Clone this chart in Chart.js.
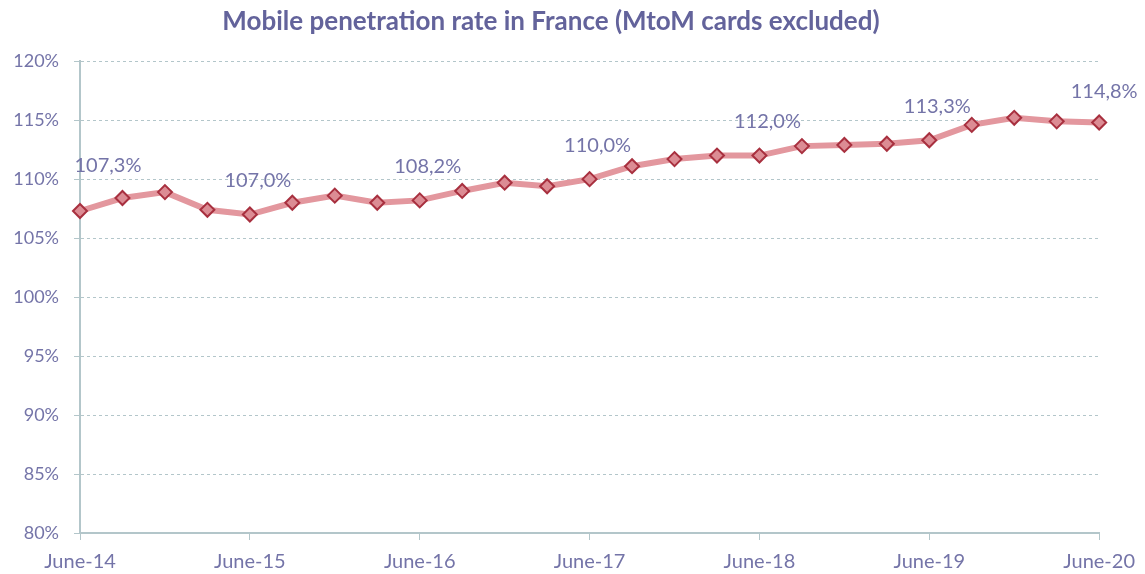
<!DOCTYPE html>
<html>
  <head>
    <meta charset="utf-8">
    <title>Mobile penetration rate in France</title>
    <script src="https://cdn.jsdelivr.net/npm/chart.js"></script>
    <style>
      html, body { margin: 0; padding: 0; background: #ffffff; }
      .chart-container { width: 1145px; height: 574px; position: relative; }
    </style>
  </head>
  <body>
    <div class="chart-container">
      <canvas id="myChart"></canvas>
    </div>
    <script>
      // Quarterly categories, only the June ones get a visible tick label
      const quarters = [
        'June-14', 'Sept-14', 'Dec-14', 'Mar-15',
        'June-15', 'Sept-15', 'Dec-15', 'Mar-16',
        'June-16', 'Sept-16', 'Dec-16', 'Mar-17',
        'June-17', 'Sept-17', 'Dec-17', 'Mar-18',
        'June-18', 'Sept-18', 'Dec-18', 'Mar-19',
        'June-19', 'Sept-19', 'Dec-19', 'Mar-20',
        'June-20'
      ];

      // Penetration rate (%)
      const penetration = [
        107.3, 108.4, 108.9, 107.4,
        107.0, 108.0, 108.6, 108.0,
        108.2, 109.0, 109.7, 109.4,
        110.0, 111.1, 111.7, 112.0,
        112.0, 112.8, 112.9, 113.0,
        113.3, 114.6, 115.2, 114.9,
        114.8
      ];

      // Points that carry a value label
      const labelledPoints = [0, 4, 8, 12, 16, 20, 24];

      const yTicks = [80, 85, 90, 95, 100, 105, 110, 115, 120];

      const TEXT = '#7474a8';
      const GRID = '#b3c6ca';
      const FONT = 'Lato, "Open Sans", sans-serif';

      // Draws the value labels above selected points
      const valueLabels = {
        id: 'valueLabels',
        afterDatasetsDraw(chart) {
          const meta = chart.getDatasetMeta(0);
          const ctx = chart.ctx;
          ctx.save();
          ctx.font = '20px ' + FONT;
          ctx.fillStyle = TEXT;
          ctx.textAlign = 'center';
          ctx.textBaseline = 'middle';
          labelledPoints.forEach(i => {
            const pt = meta.data[i];
            const text = penetration[i].toFixed(1).replace('.', ',') + '%';
            let dx = 8, dy = -34;
            if (i === 0) { dx = 28; dy = -45; }
            if (i === quarters.length - 1) { dx = 5; dy = -31; }
            ctx.fillText(text, pt.x + dx, pt.y + dy);
          });
          ctx.restore();
        }
      };

      const ctx = document.getElementById('myChart');
      new Chart(ctx, {
        type: 'line',
        data: {
          labels: quarters,
          datasets: [{
            data: penetration,
            borderColor: '#e3979e',
            borderWidth: 6,
            pointStyle: 'rectRot',
            pointRadius: 7,
            pointBackgroundColor: '#dc8c94',
            pointBorderColor: '#a8303f',
            pointBorderWidth: 2,
            tension: 0
          }]
        },
        options: {
          responsive: true,
          maintainAspectRatio: false,
          animation: false,
          layout: { padding: { left: 0, right: 43, top: 0, bottom: 0 } },
          plugins: {
            legend: { display: false },
            tooltip: { enabled: false },
            title: {
              display: true,
              text: 'Mobile penetration rate in France (MtoM cards excluded)',
              color: '#63639b',
              font: { family: FONT, size: 26, weight: 'bold' },
              padding: { top: 6, bottom: 24 }
            }
          },
          scales: {
            x: {
              offset: false,
              grid: {
                drawOnChartArea: false,
                tickLength: 7,
                color: c => (c.index % 4 === 0 ? GRID : 'rgba(0,0,0,0)')
              },
              border: { color: GRID, width: 2 },
              ticks: {
                autoSkip: false,
                maxRotation: 0,
                padding: 10,
                color: TEXT,
                font: { family: FONT, size: 20 },
                callback: (v, i) => (i % 4 === 0 ? quarters[i] : '')
              },
              afterFit: s => { s.height = 41; }
            },
            y: {
              min: 80,
              max: 120,
              afterBuildTicks: s => { s.ticks = yTicks.map(v => ({ value: v })); },
              grid: { color: GRID, tickLength: 6 },
              border: { color: GRID, width: 2, dash: [3, 3] },
              ticks: {
                padding: 15,
                color: TEXT,
                font: { family: FONT, size: 18 },
                callback: v => v + '%'
              },
              afterFit: s => { s.width = 80; }
            }
          }
        },
        plugins: [valueLabels]
      });
    </script>
  </body>
</html>
